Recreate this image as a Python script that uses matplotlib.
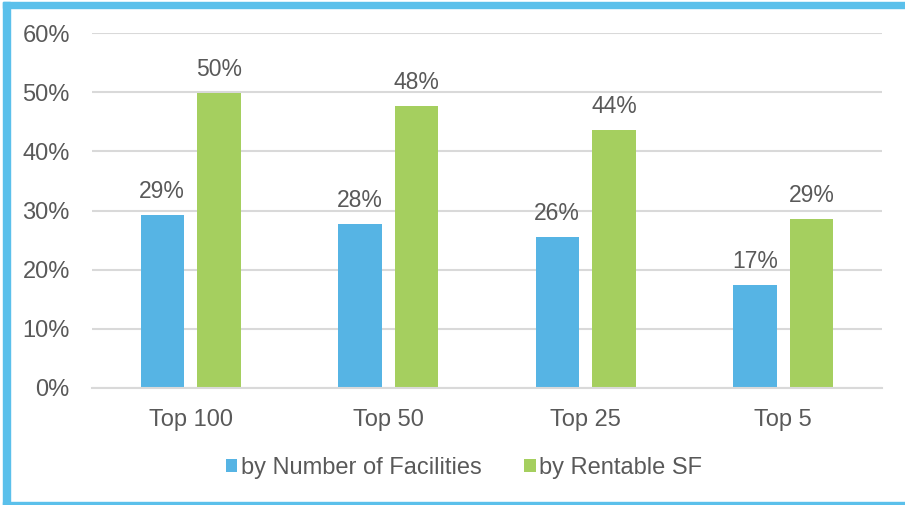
import matplotlib.pyplot as plt
import matplotlib.patches as mpatches
import numpy as np

plt.rcParams['font.family'] = ['Liberation Sans', 'DejaVu Sans']

categories = ['Top 100', 'Top 50', 'Top 25', 'Top 5']
by_facilities = [29.3, 27.7, 25.6, 17.4]
by_rentable_sf = [49.9, 47.7, 43.6, 28.6]
fac_labels = ['29%', '28%', '26%', '17%']
sf_labels = ['50%', '48%', '44%', '29%']

blue = '#56b4e4'
green = '#a5cf5f'
gray = '#595959'

fig = plt.figure(figsize=(9.05, 5.05), dpi=100)
ax = fig.add_axes([92/905, 117/505, 790/905, 355/505])

x = np.arange(len(categories))
w = 0.22
off = 0.144
b1 = ax.bar(x - off, by_facilities, w, color=blue, zorder=2, label='by Number of Facilities')
b2 = ax.bar(x + off, by_rentable_sf, w, color=green, zorder=2, label='by Rentable SF')

for bars, labs in [(b1, fac_labels), (b2, sf_labels)]:
    for b, t in zip(bars, labs):
        ax.text(b.get_x() + b.get_width() / 2, b.get_height() + 2.0, t,
                ha='center', va='bottom', fontsize=16.5, color=gray)

ax.set_xlim(-0.5, 3.5)
ax.set_ylim(0, 60)
ax.set_yticks(range(0, 61, 10))
ax.set_yticklabels(['{}%'.format(v) for v in range(0, 61, 10)])
ax.set_xticks(x)
ax.set_xticklabels(categories)
ax.tick_params(axis='both', length=0, labelsize=17, labelcolor=gray)
ax.tick_params(axis='y', pad=16)
ax.tick_params(axis='x', pad=15)
ax.grid(axis='y', color='#d9d9d9', linewidth=1.5, zorder=1)
for s in ['top', 'right', 'left']:
    ax.spines[s].set_visible(False)
ax.spines['bottom'].set_color('#d9d9d9')
ax.spines['bottom'].set_linewidth(1.5)

leg = fig.legend(loc='center', bbox_to_anchor=(464/905, 1 - 468/505), ncol=2, frameon=False,
                 fontsize=17, handlelength=0.5, handleheight=0.5, handletextpad=0.15,
                 columnspacing=1.8)
for t in leg.get_texts():
    t.set_color(gray)

# light blue frame around the chart
fig.patches.append(mpatches.Rectangle((3/905, 0), 7/905, 1 - 2/505, transform=fig.transFigure,
                                      color='#5bc0eb', zorder=5))
fig.patches.append(mpatches.Rectangle((3/905, 1 - 8/505), 1, 6/505, transform=fig.transFigure,
                                      color='#5bc0eb', zorder=5))
fig.patches.append(mpatches.Rectangle((3/905, 0), 1, 3/505, transform=fig.transFigure,
                                      color='#5bc0eb', zorder=5))

plt.savefig('out.png', dpi=100)
